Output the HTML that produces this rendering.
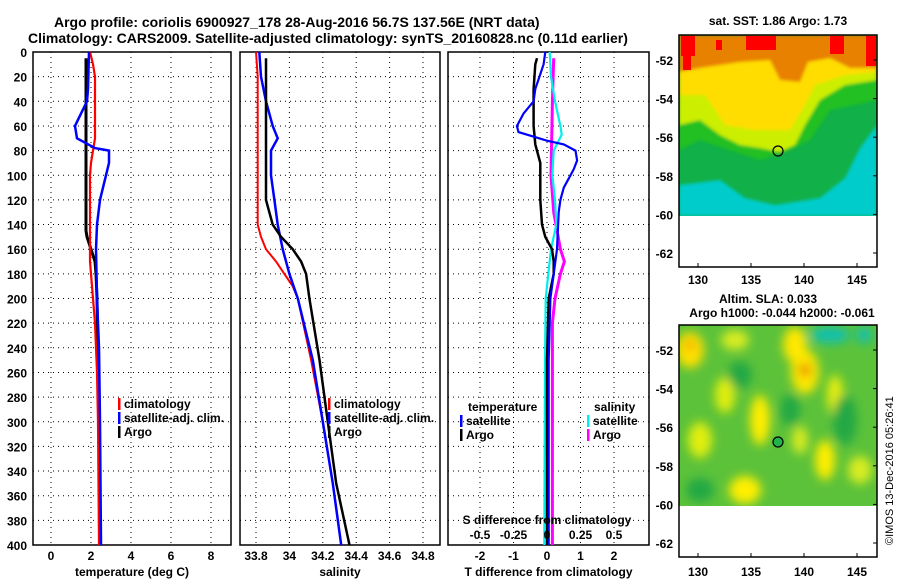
<!DOCTYPE html>
<html><head><meta charset="utf-8"><style>
body{margin:0;background:#fff;width:900px;height:580px;overflow:hidden}
svg text{font-family:"Liberation Sans",sans-serif;font-weight:bold;fill:#000}
</style></head><body>
<svg id="chart" width="900" height="580" xmlns="http://www.w3.org/2000/svg">
<defs>
<filter id="blur1"><feGaussianBlur stdDeviation="1.5"/></filter>
<filter id="blur4"><feGaussianBlur stdDeviation="5"/></filter>
<clipPath id="clipTop"><rect x="679" y="35" width="198" height="181"/></clipPath>
<clipPath id="clipBot"><rect x="679" y="325" width="198" height="181"/></clipPath>
</defs>
<text x="54" y="27" font-size="14">Argo profile: coriolis 6900927_178 28-Aug-2016 56.7S 137.56E (NRT data)</text>
<text x="28" y="43" font-size="14">Climatology: CARS2009. Satellite-adjusted climatology: synTS_20160828.nc (0.11d earlier)</text>
<g id="panels"></g>
<g id="maps">
 <text x="778" y="25" font-size="12" text-anchor="middle">sat. SST: 1.86 Argo: 1.73</text>
 <g clip-path="url(#clipTop)">
  <rect x="679" y="35" width="198" height="181" fill="#11b048"/>
  <g filter="url(#blur1)">
  <polygon points="679,150 700,140 730,150 760,160 790,150 810,140 830,110 877,100 877,60 679,60" fill="#22c022"/>
  <polygon points="679,185 720,180 745,198 775,205 820,198 845,178 860,148 877,125 877,216 679,216" fill="#00cccc"/>
  <polygon points="679,125 700,120 720,135 740,145 760,148 780,152 795,145 805,125 820,100 845,85 877,80 877,35 679,35" fill="#ccee00"/>
  <polygon points="679,95 705,95 725,125 755,130 790,130 805,105 815,85 845,75 877,72 877,35 679,35" fill="#ffdd00"/>
  <polygon points="679,72 700,68 740,62 770,60 780,80 800,82 808,62 830,58 850,68 877,68 877,35 679,35" fill="#e88000"/>
  </g>
  <rect x="681" y="36" width="14" height="20" fill="#ff0000"/>
  <rect x="683" y="56" width="8" height="14" fill="#ff0000"/>
  <rect x="746" y="36" width="30" height="14" fill="#ff0000"/>
  <rect x="830" y="36" width="14" height="18" fill="#ff0000"/>
  <rect x="866" y="36" width="10" height="30" fill="#ff0000"/>
  <rect x="716" y="40" width="6" height="10" fill="#ff0000"/>
 </g>
 <rect x="679" y="216" width="198" height="51" fill="#fff"/>
 <rect x="679" y="35" width="198" height="232" fill="none" stroke="#000" stroke-width="1.5"/>
 <circle cx="778" cy="151" r="5" fill="none" stroke="#000" stroke-width="1.2"/>

 <text x="768" y="303" font-size="12" text-anchor="middle">Altim. SLA: 0.033</text>
 <text x="782" y="317" font-size="12" text-anchor="middle">Argo h1000: -0.044 h2000: -0.061</text>
 <g clip-path="url(#clipBot)">
  <rect x="679" y="325" width="198" height="181" fill="#5cc23a"/>
  <g filter="url(#blur4)">
   <ellipse cx="690" cy="350" rx="14" ry="18" fill="#ffe000"/>
   <ellipse cx="690" cy="345" rx="5" ry="5" fill="#f0a000"/>
   <ellipse cx="735" cy="340" rx="14" ry="10" fill="#d8ec20"/>
   <ellipse cx="795" cy="345" rx="12" ry="18" fill="#ffe800"/>
   <ellipse cx="805" cy="372" rx="14" ry="22" fill="#ffe800"/>
   <ellipse cx="805" cy="370" rx="6" ry="7" fill="#e89000"/>
   <ellipse cx="760" cy="420" rx="10" ry="25" fill="#ffee00"/>
   <ellipse cx="725" cy="395" rx="10" ry="18" fill="#e0ee10"/>
   <ellipse cx="700" cy="440" rx="12" ry="18" fill="#e0ee10"/>
   <ellipse cx="835" cy="395" rx="8" ry="20" fill="#e8ee10"/>
   <ellipse cx="825" cy="460" rx="10" ry="20" fill="#ffee00"/>
   <ellipse cx="745" cy="490" rx="16" ry="14" fill="#ffee00"/>
   <ellipse cx="800" cy="440" rx="8" ry="14" fill="#d8ec20"/>
   <ellipse cx="860" cy="470" rx="12" ry="14" fill="#d8ec20"/>
   <ellipse cx="740" cy="375" rx="12" ry="14" fill="#22a844"/>
   <ellipse cx="790" cy="410" rx="10" ry="16" fill="#22a844"/>
   <ellipse cx="845" cy="420" rx="12" ry="25" fill="#22a844"/>
   <ellipse cx="700" cy="490" rx="14" ry="12" fill="#22a844"/>
   <ellipse cx="830" cy="335" rx="20" ry="8" fill="#10c0b0"/>
   <ellipse cx="864" cy="335" rx="8" ry="8" fill="#10c0b0"/>
  </g>
 </g>
 <rect x="679" y="506" width="198" height="51" fill="#fff"/>
 <rect x="679" y="325" width="198" height="232" fill="none" stroke="#000" stroke-width="1.5"/>
 <circle cx="778" cy="442" r="5" fill="#22b44a" stroke="#000" stroke-width="1.2"/>
 <g id="mapticks"></g>
 <text transform="translate(893,545) rotate(-90)" font-size="11" style="font-weight:normal">©IMOS 13-Dec-2016 05:26:41</text>
</g>
</svg>
<script>
// ---- data ----
const depthTicks = [0,20,40,60,80,100,120,140,160,180,200,220,240,260,280,300,320,340,360,380,400];
const tempTicks = [0,2,4,6,8];
const salTicks = [33.8,34,34.2,34.4,34.6,34.8];
const salTickLabels = ["33.8","34","34.2","34.4","34.6","34.8"];
const tdiffTicks = [-2,-1,0,1,2];
const sdiffTicks = [-0.5,-0.25,0,0.25,0.5];

const climTDepth = [0,10,20,70,80,90,100,170,180,200,220,260,300,400];
const climTVal   = [1.95,2.1,2.2,2.2,2.1,2.0,1.95,1.95,2.0,2.1,2.2,2.3,2.35,2.4];
const satTDepth = [0,30,40,50,60,70,78,80,90,100,110,120,140,160,200,240,300,400];
const satTVal   = [1.9,1.85,1.8,1.5,1.2,1.3,2.2,2.9,2.9,2.75,2.6,2.45,2.3,2.25,2.3,2.4,2.45,2.5];
const argoTDepth = [5,145,150,160,170,180,200,250,300,400];
const argoTVal   = [1.75,1.75,1.8,2.0,2.2,2.25,2.3,2.35,2.4,2.45];

const climSDepth = [0,20,140,150,160,170,180,190,200,250,300,350,400];
const climSVal   = [33.8,33.81,33.81,33.83,33.86,33.92,33.97,34.02,34.05,34.13,34.2,34.26,34.31];
const satSDepth = [0,20,40,60,70,80,100,120,140,160,180,200,250,300,350,400];
const satSVal   = [33.82,33.83,33.86,33.9,33.93,33.89,33.89,33.91,33.93,33.96,34.0,34.05,34.14,34.2,34.26,34.31];
const argoSDepth = [5,120,140,150,160,170,180,200,250,300,350,400];
const argoSVal   = [33.86,33.86,33.9,33.95,34.02,34.07,34.1,34.12,34.18,34.23,34.28,34.36];

const dTsatDepth = [0,10,30,40,50,60,65,72,75,80,88,95,100,110,120,130,160,180,200,250,400];
const dTsatVal   = [-0.05,-0.1,-0.35,-0.4,-0.7,-0.9,-0.85,0.0,0.5,0.85,0.9,0.8,0.7,0.5,0.4,0.35,0.3,0.2,0.1,0.05,0.05];
const dTargoDepth = [5,10,30,60,75,90,120,140,150,160,170,180,200,250,400];
const dTargoVal   = [-0.3,-0.35,-0.4,-0.4,-0.35,-0.2,-0.2,-0.15,-0.05,0.15,0.2,0.2,0.05,0.0,0.0];
const dSsatDepth = [0,20,40,60,67,80,100,120,140,160,180,200,250,400];
const dSsatVal   = [0.02,0.03,0.06,0.1,0.11,0.05,0.04,0.06,0.07,0.03,0.01,-0.01,-0.015,-0.02];
const dSargoDepth = [5,40,100,130,160,170,180,200,220,400];
const dSargoVal   = [0.05,0.04,0.03,0.05,0.1,0.13,0.1,0.06,0.04,0.04];

const lonTicks = [130,135,140,145];
const latTicks = [-52,-54,-56,-58,-60,-62];

// ---- drawing ----
const NS="http://www.w3.org/2000/svg";
const root=document.getElementById('panels');
function mk(tag,attrs,parent){const e=document.createElementNS(NS,tag);for(const k in attrs)e.setAttribute(k,attrs[k]);(parent||root).appendChild(e);return e;}
const yTop=52,yBot=545;
const yS=d=>yTop+(yBot-yTop)*d/400;

function panel(name,x0,x1,xScale,ticks,labels,title){
  const g=mk('g',{});
  
  
  ticks.forEach((t,i)=>{
    const x=xScale(t);
    const l=mk('line',{x1:x,x2:x,y1:yTop,y2:yBot,stroke:'#000','stroke-width':1,'stroke-dasharray':'1,4'},g);
    
    
    if(labels){
      const tx=mk('text',{x:x,y:560,'font-size':12,'text-anchor':'middle'},g);
      tx.textContent=labels[i];
      
      
    }
  });
  depthTicks.forEach(d=>{
    if(d===0||d===400)return;
    const l=mk('line',{x1:x0,x2:x1,y1:yS(d),y2:yS(d),stroke:'#000','stroke-width':1,'stroke-dasharray':'1,4'},g);
    
    
  });
  const r=mk('rect',{x:x0,y:yTop,width:x1-x0,height:yBot-yTop,fill:'none',stroke:'#000','stroke-width':1.5},g);
  
  
  const t=mk('text',{x:(x0+x1)/2,y:576,'font-size':12,'text-anchor':'middle'},g);
  t.textContent=title;
  
  
  return g;
}
function series(g,name,depths,vals,xScale,color,w){
  const pts=depths.map((d,i)=>xScale(vals[i]).toFixed(1)+','+yS(d).toFixed(1)).join(' ');
  const p=mk('polyline',{points:pts,fill:'none',stroke:color,'stroke-width':w,'stroke-linejoin':'miter'},g);
  
  
}
function legend(g,x,y,color,label,name){
  const b=mk('rect',{x:x,y:y-9,width:2.5,height:12,fill:color},g);
  
  
  const t=mk('text',{x:x+6,y:y+1,'font-size':12},g);
  t.textContent=label;
  
  
}
depthTicks.forEach(d=>{
  const t=mk('text',{x:27,y:yS(d)+5,'font-size':12,'text-anchor':'end'});
  t.textContent=d;
  
  
});

const xT=v=>51+20*v;
const g1=panel('temperature-panel',33,231,xT,tempTicks,tempTicks.map(String),'temperature (deg C)');
series(g1,'argo-temperature-line',argoTDepth,argoTVal,xT,'#000',3);
series(g1,'climatology-temperature-line',climTDepth,climTVal,xT,'#f00',2.2);
series(g1,'satellite-temperature-line',satTDepth,satTVal,xT,'#00f',2.5);
legend(g1,118,407,'#f00','climatology','legend-climatology');
legend(g1,118,421,'#00f','satellite-adj. clim.','legend-satellite-adj');
legend(g1,118,435,'#000','Argo','legend-argo');

const xS=v=>256+167*(v-33.8);
const g2=panel('salinity-panel',240,440,xS,salTicks,salTickLabels,'salinity');
series(g2,'climatology-salinity-line',climSDepth,climSVal,xS,'#f00',2);
series(g2,'satellite-salinity-line',satSDepth,satSVal,xS,'#00f',2.5);
series(g2,'argo-salinity-line',argoSDepth,argoSVal,xS,'#000',2.5);
legend(g2,328,407,'#f00','climatology','legend-climatology-sal');
legend(g2,328,421,'#00f','satellite-adj. clim.','legend-satellite-adj-sal');
legend(g2,328,435,'#000','Argo','legend-argo-sal');

const xD=v=>547+33.5*v;
const xDS=v=>547+134*v;
const g3=panel('difference-panel',448,649,xD,tdiffTicks,tdiffTicks.map(String),'T difference from climatology');
series(g3,'argo-salinity-diff-line',dSargoDepth,dSargoVal,xDS,'#f0f',3);
series(g3,'satellite-salinity-diff-line',dSsatDepth,dSsatVal,xDS,'#0ee',2.2);
series(g3,'argo-temperature-diff-line',dTargoDepth,dTargoVal,xD,'#000',2.5);
series(g3,'satellite-temperature-diff-line',dTsatDepth,dTsatVal,xD,'#00f',2.2);
let th=mk('text',{x:468,y:411,'font-size':12},g3);th.textContent='temperature';


let sh=mk('text',{x:594,y:411,'font-size':12},g3);sh.textContent='salinity';


legend(g3,460,424,'#00f','satellite','legend-t-satellite');
legend(g3,460,438,'#000','Argo','legend-t-argo');
legend(g3,587,424,'#0ee','satellite','legend-s-satellite');
legend(g3,587,438,'#f0f','Argo','legend-s-argo');
const st=mk('text',{x:547,y:524,'font-size':12,'text-anchor':'middle'},g3);
st.textContent='S difference from climatology';


sdiffTicks.forEach(v=>{
  const t=mk('text',{x:xDS(v),y:539,'font-size':12,'text-anchor':'middle'},g3);
  t.textContent=String(v);
  
  
});

const mt=document.getElementById('mapticks');
const lonX=v=>698+10.6*(v-130);
[[60,253,267,279],[350,543,557,571]].forEach(([y52,y62,yb,ylab])=>{
  const latY=v=>y52+(y62-y52)*(-52-v)/10;
  latTicks.forEach(v=>{
    const t=mk('text',{x:673,y:latY(v)+5,'font-size':12,'text-anchor':'end'},mt);
    t.textContent=String(v);
    
    
    mk('line',{x1:873,x2:877,y1:latY(v),y2:latY(v),stroke:'#000'},mt);
  });
  lonTicks.forEach(v=>{
    const t=mk('text',{x:lonX(v),y:ylab+5,'font-size':12,'text-anchor':'middle'},mt);
    t.textContent=String(v);
    
    
    mk('line',{x1:lonX(v),x2:lonX(v),y1:yb-4,y2:yb,stroke:'#000'},mt);
  });
});
</script>
</body></html>
